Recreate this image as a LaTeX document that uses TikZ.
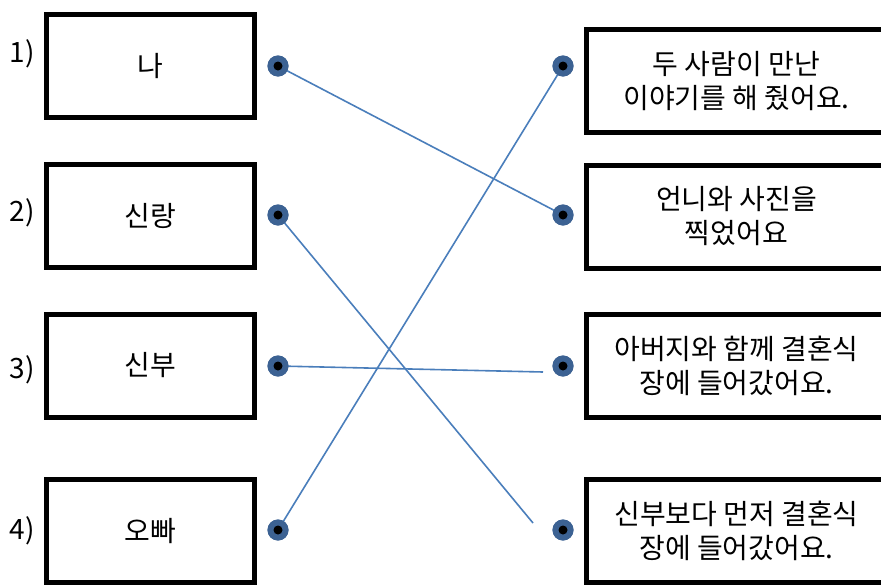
\documentclass[tikz,border=0pt]{standalone}
\usepackage{fontspec}
\setmainfont{Noto Sans CJK KR}
\definecolor{linkblue}{HTML}{4A7EBB}
\definecolor{dotring}{HTML}{3C6293}
\begin{document}
\begin{tikzpicture}[x=1pt,y=-1pt,
  box/.style={draw=black,line width=5pt,inner sep=0pt,align=center,
    minimum height=103pt,font=\fontsize{28}{34}\selectfont},
  leftbox/.style={box,minimum width=208pt},
  rightbox/.style={box,minimum width=300pt},
  numlabel/.style={font=\fontsize{28}{30}\selectfont,inner sep=0pt},
  dotnode/.style={circle,fill=black,draw=dotring,line width=4pt,minimum size=17pt,inner sep=0pt},
  link/.style={draw=linkblue,line width=1.6pt}]
\useasboundingbox (0,0) rectangle (881,584);
\fill[white] (0,0) rectangle (881,584);
\begin{scope}
\clip (0,0) rectangle (881,584);
% left boxes
\node[leftbox] (l1) at (150.5,66) {나};
\node[leftbox] (l2) at (150.5,216) {신랑};
\node[leftbox] (l3) at (150.5,365.5) {신부};
\node[leftbox] (l4) at (150.5,531) {오빠};
% right boxes
\node[rightbox] (r1) at (736.5,81) {두 사람이 만난\\이야기를 해 줬어요.};
\node[rightbox] (r2) at (736.5,216.5) {언니와 사진을\\찍었어요};
\node[rightbox] (r3) at (736.5,366) {아버지와 함께 결혼식\\장에 들어갔어요.};
\node[rightbox] (r4) at (736.5,531) {신부보다 먼저 결혼식\\장에 들어갔어요.};
% number labels
\node[numlabel] (n1) at (22,54) {1)};
\node[numlabel] (n2) at (22,213) {2)};
\node[numlabel] (n3) at (22,370) {3)};
\node[numlabel] (n4) at (22,531) {4)};
% dots
\node[dotnode] (dl1) at (278,66) {};
\node[dotnode] (dl2) at (278,215) {};
\node[dotnode] (dl3) at (278,366) {};
\node[dotnode] (dl4) at (278,530) {};
\node[dotnode] (dr1) at (563,66) {};
\node[dotnode] (dr2) at (563,215) {};
\node[dotnode] (dr3) at (563,366) {};
\node[dotnode] (dr4) at (563,530) {};
\coordinate (e2) at (533,523);
\coordinate (e3) at (543,372);
% links
\path[link] (dl1.center) -- (dr2.center);
\path[link] (dl2.center) -- (e2);
\path[link] (dl3.center) -- (e3);
\path[link] (dl4.center) -- (dr1.center);
% redraw dots on top
\foreach \p in {dl1,dl2,dl3,dl4,dr1,dr2,dr3,dr4}{
  \fill[dotring] (\p.center) circle (10.5pt);
  \fill[black] (\p.center) circle (4.5pt);
}
\end{scope}
\end{tikzpicture}
\end{document}
